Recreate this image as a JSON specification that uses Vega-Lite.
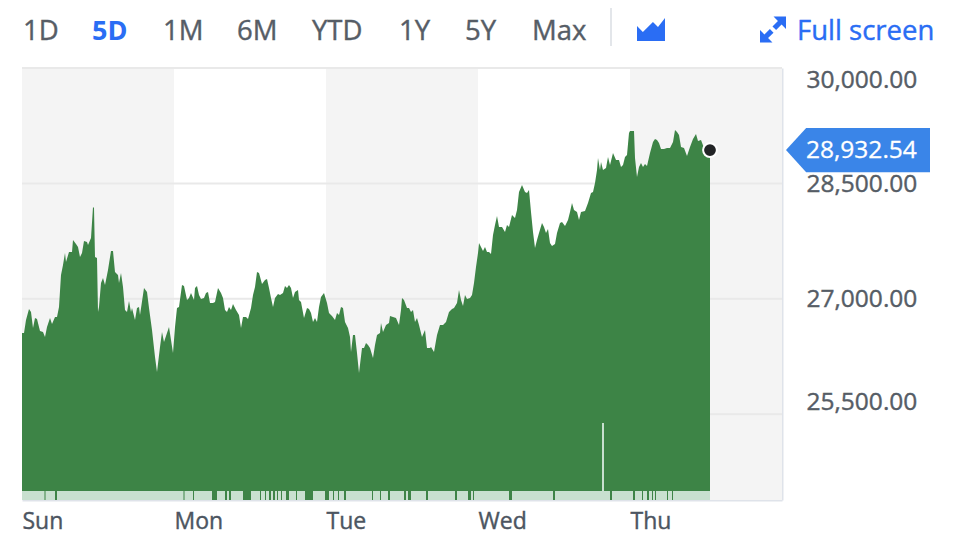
{"$schema":"https://vega.github.io/schema/vega-lite/v6.json","width":760,"height":432,"autosize":"none","padding":{"left":22,"top":68,"right":178,"bottom":47},"background":"#ffffff","view":{"stroke":null},"config":{"font":"Open Sans"},
"encoding":{"x":{"field":"t","type":"quantitative","scale":{"domain":[0,760],"nice":false,"zero":false},"axis":{"values":[0,152,304,456,608],"labelExpr":"datum.value==0?'Sun':datum.value==152?'Mon':datum.value==304?'Tue':datum.value==456?'Wed':'Thu'","title":null,"grid":false,"ticks":false,"domainColor":"#dfe3ea","domainWidth":2,"labelAlign":"left","labelBaseline":"middle","labelFlush":false,"labelPadding":21,"labelFontSize":23,"labelColor":"#4c5561","encoding":{"labels":{"stroke":{"value":"#4c5561"},"strokeWidth":{"value":0.4}}}}},"y":{"field":"v","type":"quantitative","scale":{"domain":[24384,30000],"nice":false,"zero":false},"axis":{"orient":"right","values":[30000,28500,27000,25500],"format":",.2f","title":null,"grid":false,"ticks":false,"domainColor":"#dfe3ea","domainWidth":2,"labelAlign":"left","labelBaseline":"middle","labelPadding":24,"labelFontSize":24.5,"labelColor":"#565d66","labelOffset":{"expr":"datum.value==30000?12:datum.value==25500?-12:1"},"encoding":{"labels":{"stroke":{"value":"#565d66"},"strokeWidth":{"value":0.4}}}}}},
"layer":[
{"data":{"values":[{"t":0,"t2":152,"v":30000,"v2":24384},{"t":304,"t2":456,"v":30000,"v2":24384},{"t":608,"t2":760,"v":30000,"v2":24384}]},"mark":{"type":"rect","fill":"#f4f4f4"},"encoding":{"x2":{"field":"t2"},"y2":{"field":"v2"}}},
{"data":{"values":[{"t":0,"t2":760,"v":30000},{"t":0,"t2":760,"v":28500},{"t":0,"t2":760,"v":27000},{"t":0,"t2":760,"v":25500}]},"mark":{"type":"rule","stroke":"#e9e9e9","strokeWidth":2},"encoding":{"x2":{"field":"t2"}}},
{"data":{"name":"price","values":[{"t":0,"v":26555},{"t":2,"v":26555},{"t":4,"v":26724},{"t":7,"v":26867},{"t":9,"v":26828},{"t":11,"v":26620},{"t":13,"v":26750},{"t":15,"v":26737},{"t":18,"v":26581},{"t":21,"v":26568},{"t":23,"v":26503},{"t":25,"v":26633},{"t":28,"v":26750},{"t":30,"v":26672},{"t":33,"v":26763},{"t":35,"v":26763},{"t":37,"v":26893},{"t":39,"v":27309},{"t":41,"v":27439},{"t":43,"v":27595},{"t":44,"v":27478},{"t":47,"v":27608},{"t":50,"v":27608},{"t":51,"v":27764},{"t":54,"v":27712},{"t":56,"v":27673},{"t":58,"v":27543},{"t":60,"v":27595},{"t":62,"v":27751},{"t":65,"v":27738},{"t":66,"v":27699},{"t":69,"v":27790},{"t":71,"v":28193},{"t":72,"v":28180},{"t":73,"v":27543},{"t":75,"v":27530},{"t":76,"v":26828},{"t":77,"v":26893},{"t":79,"v":27205},{"t":81,"v":27270},{"t":83,"v":27179},{"t":86,"v":27374},{"t":89,"v":27621},{"t":91,"v":27621},{"t":93,"v":27348},{"t":96,"v":27309},{"t":97,"v":27205},{"t":99,"v":27335},{"t":101,"v":27153},{"t":103,"v":26854},{"t":105,"v":26828},{"t":107,"v":26971},{"t":109,"v":26828},{"t":110,"v":26880},{"t":113,"v":26724},{"t":115,"v":26880},{"t":117,"v":26893},{"t":118,"v":26789},{"t":122,"v":27140},{"t":125,"v":27088},{"t":127,"v":26880},{"t":130,"v":26594},{"t":133,"v":26243},{"t":135,"v":26048},{"t":138,"v":26373},{"t":140,"v":26568},{"t":142,"v":26438},{"t":145,"v":26555},{"t":147,"v":26633},{"t":149,"v":26464},{"t":151,"v":26295},{"t":153,"v":26633},{"t":155,"v":26880},{"t":157,"v":26893},{"t":160,"v":27179},{"t":162,"v":27166},{"t":165,"v":26984},{"t":167,"v":27010},{"t":169,"v":27075},{"t":172,"v":26984},{"t":173,"v":27140},{"t":175,"v":27166},{"t":177,"v":27049},{"t":179,"v":26997},{"t":182,"v":27010},{"t":184,"v":27075},{"t":186,"v":27088},{"t":188,"v":26945},{"t":191,"v":26945},{"t":193,"v":26958},{"t":196,"v":27140},{"t":199,"v":27075},{"t":201,"v":27010},{"t":203,"v":26854},{"t":205,"v":26828},{"t":207,"v":26893},{"t":209,"v":26854},{"t":211,"v":26932},{"t":214,"v":26854},{"t":217,"v":26789},{"t":219,"v":26620},{"t":221,"v":26763},{"t":224,"v":26763},{"t":226,"v":26737},{"t":229,"v":26880},{"t":231,"v":27049},{"t":233,"v":27153},{"t":235,"v":27348},{"t":237,"v":27335},{"t":240,"v":27192},{"t":243,"v":27244},{"t":245,"v":27257},{"t":247,"v":27140},{"t":249,"v":27010},{"t":251,"v":26893},{"t":253,"v":27010},{"t":256,"v":27062},{"t":258,"v":27049},{"t":261,"v":27075},{"t":263,"v":27166},{"t":265,"v":27140},{"t":267,"v":27179},{"t":269,"v":27140},{"t":271,"v":27010},{"t":273,"v":27088},{"t":276,"v":27114},{"t":277,"v":26984},{"t":279,"v":26958},{"t":282,"v":26750},{"t":285,"v":26880},{"t":287,"v":26867},{"t":289,"v":26815},{"t":291,"v":26698},{"t":293,"v":26750},{"t":295,"v":26698},{"t":297,"v":26893},{"t":299,"v":27023},{"t":302,"v":27075},{"t":305,"v":26945},{"t":307,"v":26815},{"t":310,"v":26776},{"t":313,"v":26724},{"t":315,"v":26815},{"t":317,"v":26789},{"t":319,"v":26893},{"t":321,"v":26880},{"t":323,"v":26698},{"t":326,"v":26620},{"t":328,"v":26503},{"t":329,"v":26308},{"t":331,"v":26529},{"t":333,"v":26529},{"t":335,"v":26295},{"t":337,"v":26035},{"t":340,"v":26360},{"t":342,"v":26360},{"t":344,"v":26425},{"t":346,"v":26399},{"t":348,"v":26360},{"t":351,"v":26230},{"t":353,"v":26399},{"t":355,"v":26529},{"t":358,"v":26555},{"t":359,"v":26685},{"t":361,"v":26568},{"t":364,"v":26659},{"t":367,"v":26685},{"t":368,"v":26776},{"t":371,"v":26763},{"t":374,"v":26750},{"t":377,"v":26659},{"t":379,"v":26854},{"t":380,"v":27010},{"t":382,"v":26984},{"t":385,"v":26880},{"t":387,"v":26880},{"t":389,"v":26828},{"t":391,"v":26854},{"t":393,"v":26698},{"t":395,"v":26750},{"t":397,"v":26659},{"t":400,"v":26503},{"t":403,"v":26594},{"t":405,"v":26360},{"t":408,"v":26360},{"t":409,"v":26373},{"t":412,"v":26308},{"t":415,"v":26529},{"t":418,"v":26659},{"t":421,"v":26659},{"t":424,"v":26698},{"t":427,"v":26828},{"t":430,"v":26867},{"t":432,"v":26880},{"t":435,"v":26945},{"t":437,"v":27114},{"t":439,"v":26984},{"t":441,"v":26906},{"t":443,"v":27049},{"t":445,"v":26997},{"t":448,"v":27010},{"t":450,"v":27049},{"t":452,"v":27205},{"t":454,"v":27413},{"t":456,"v":27595},{"t":457,"v":27725},{"t":459,"v":27673},{"t":461,"v":27621},{"t":463,"v":27673},{"t":465,"v":27608},{"t":467,"v":27608},{"t":469,"v":27582},{"t":471,"v":27829},{"t":473,"v":27959},{"t":475,"v":28076},{"t":477,"v":27933},{"t":480,"v":27933},{"t":483,"v":27868},{"t":485,"v":27959},{"t":487,"v":27933},{"t":490,"v":28089},{"t":493,"v":28050},{"t":495,"v":28154},{"t":497,"v":28388},{"t":500,"v":28479},{"t":503,"v":28388},{"t":505,"v":28375},{"t":507,"v":28414},{"t":509,"v":28128},{"t":511,"v":27868},{"t":513,"v":27660},{"t":515,"v":27764},{"t":517,"v":27855},{"t":520,"v":27985},{"t":522,"v":27933},{"t":524,"v":27855},{"t":526,"v":27907},{"t":528,"v":27725},{"t":530,"v":27686},{"t":533,"v":27712},{"t":535,"v":27855},{"t":538,"v":27985},{"t":540,"v":27998},{"t":543,"v":27946},{"t":546,"v":28024},{"t":548,"v":28128},{"t":550,"v":28245},{"t":552,"v":28154},{"t":555,"v":28128},{"t":557,"v":28024},{"t":559,"v":28128},{"t":563,"v":28141},{"t":566,"v":28245},{"t":569,"v":28375},{"t":571,"v":28388},{"t":573,"v":28505},{"t":575,"v":28674},{"t":576,"v":28830},{"t":578,"v":28674},{"t":579,"v":28778},{"t":581,"v":28674},{"t":584,"v":28700},{"t":586,"v":28843},{"t":588,"v":28739},{"t":591,"v":28895},{"t":594,"v":28804},{"t":597,"v":28804},{"t":599,"v":28713},{"t":601,"v":28739},{"t":603,"v":28843},{"t":605,"v":28869},{"t":607,"v":29155},{"t":608,"v":29181},{"t":612,"v":29181},{"t":613,"v":28830},{"t":615,"v":28583},{"t":617,"v":28713},{"t":619,"v":28765},{"t":621,"v":28713},{"t":623,"v":28752},{"t":625,"v":28726},{"t":628,"v":28895},{"t":631,"v":29038},{"t":633,"v":29077},{"t":635,"v":29064},{"t":637,"v":29025},{"t":639,"v":28947},{"t":642,"v":28947},{"t":645,"v":28960},{"t":648,"v":28960},{"t":651,"v":29038},{"t":653,"v":29194},{"t":655,"v":29168},{"t":657,"v":29129},{"t":659,"v":28973},{"t":662,"v":28960},{"t":665,"v":28856},{"t":668,"v":28973},{"t":671,"v":29077},{"t":674,"v":29142},{"t":676,"v":29051},{"t":679,"v":29064},{"t":682,"v":28960},{"t":685,"v":28869},{"t":688,"v":28932.54}]},"mark":{"type":"area","fill":"#3d8446","interpolate":"linear"},"encoding":{"y2":{"datum":24384}}},
{"data":{"values":[{"t":0,"t2":22.5,"v":24501},{"t":23.5,"t2":33,"v":24501},{"t":35,"t2":161.5,"v":24501},{"t":162.5,"t2":171,"v":24501},{"t":172,"t2":190,"v":24501},{"t":195,"t2":203,"v":24501},{"t":205,"t2":207,"v":24501},{"t":209,"t2":221,"v":24501},{"t":229,"t2":238,"v":24501},{"t":239,"t2":243,"v":24501},{"t":244,"t2":247,"v":24501},{"t":249,"t2":251,"v":24501},{"t":253,"t2":255,"v":24501},{"t":256,"t2":259,"v":24501},{"t":260,"t2":264,"v":24501},{"t":267,"t2":274,"v":24501},{"t":275,"t2":283,"v":24501},{"t":291,"t2":303,"v":24501},{"t":307,"t2":311,"v":24501},{"t":312,"t2":316,"v":24501},{"t":317,"t2":322,"v":24501},{"t":324,"t2":350,"v":24501},{"t":351,"t2":358,"v":24501},{"t":359,"t2":366,"v":24501},{"t":368,"t2":382,"v":24501},{"t":384,"t2":386,"v":24501},{"t":389,"t2":404,"v":24501},{"t":406,"t2":433,"v":24501},{"t":435,"t2":446,"v":24501},{"t":449,"t2":451,"v":24501},{"t":452,"t2":487,"v":24501},{"t":490,"t2":531,"v":24501},{"t":533,"t2":580,"v":24501},{"t":580,"t2":582,"v":25385},{"t":582,"t2":588,"v":24501},{"t":590,"t2":611,"v":24501},{"t":613,"t2":620,"v":24501},{"t":621,"t2":625,"v":24501},{"t":627,"t2":630,"v":24501},{"t":631,"t2":633,"v":24501},{"t":634,"t2":645,"v":24501},{"t":646,"t2":650,"v":24501},{"t":651,"t2":688,"v":24501}]},"mark":{"type":"rect","fill":"#c8e0cf"},"encoding":{"x2":{"field":"t2"},"y2":{"datum":24384}}},
{"data":{"name":"price2","values":[{"t":688,"v":28932.54}]},"mark":{"type":"point","filled":true,"fill":"#222426","stroke":"#ffffff","strokeWidth":2,"opacity":1,"size":190,"shape":"circle"}},
{"data":{"values":[{"t":836,"v":28932.54}]},"mark":{"type":"point","filled":true,"fill":"#3a85e8","opacity":1,"size":20736,"shape":"M-1,0 L-0.72,-0.306 L1,-0.306 L1,0.306 L-0.72,0.306 Z"}},
{"data":{"values":[{"t":629,"v":30494}]},"mark":{"type":"point","filled":true,"fill":"#2a6df4","opacity":1,"size":784,"shape":"M-1,-0.28 L-0.58,0.14 L0.14,-0.58 L0.5,-0.22 L1,-0.86 L1,0.78 L-1,0.78 Z"}},
{"data":{"values":[{"t":751,"v":30500}]},"mark":{"type":"point","filled":true,"fill":"#2a6df4","opacity":1,"size":676,"shape":"M0.04,-1 L1,-1 L1,-0.04 L0.66,-0.38 L0.24,0.04 L-0.04,-0.24 L0.38,-0.66 Z M-0.04,1 L-1,1 L-1,0.04 L-0.66,0.38 L-0.24,-0.04 L0.04,0.24 L-0.38,0.66 Z"}},
{"data":{"values":[{"t":589,"v":30780,"v2":30286}]},"mark":{"type":"rule","stroke":"#e3e6ea","strokeWidth":2},"encoding":{"y2":{"field":"v2"}}},
{"data":{"values":[{"t":1,"v":30468,"label":"1D","c":"#565d66"},{"t":141,"v":30468,"label":"1M","c":"#565d66"},{"t":215,"v":30468,"label":"6M","c":"#565d66"},{"t":290,"v":30468,"label":"YTD","c":"#565d66"},{"t":377,"v":30468,"label":"1Y","c":"#565d66"},{"t":443,"v":30468,"label":"5Y","c":"#565d66"},{"t":510,"v":30468,"label":"Max","c":"#565d66"},{"t":775,"v":30468,"label":"Full screen","c":"#2a6df4"}]},"mark":{"type":"text","align":"left","baseline":"middle","fontSize":27.5,"strokeWidth":0.4},"encoding":{"text":{"field":"label"},"color":{"field":"c","type":"nominal","scale":null},"stroke":{"field":"c","type":"nominal","scale":null}}},
{"data":{"values":[{"t":70,"v":30468,"label":"5D"}]},"mark":{"type":"text","align":"left","baseline":"middle","fontSize":27,"fontWeight":"bold","fill":"#2a6df4"},"encoding":{"text":{"field":"label"}}},
{"data":{"values":[{"t":784,"v":28932.54,"label":"28,932.54"}]},"mark":{"type":"text","align":"left","baseline":"middle","dy":1,"fontSize":24.5,"fill":"#ffffff","stroke":"#ffffff","strokeWidth":0.3},"encoding":{"text":{"field":"label"}}}
]}
